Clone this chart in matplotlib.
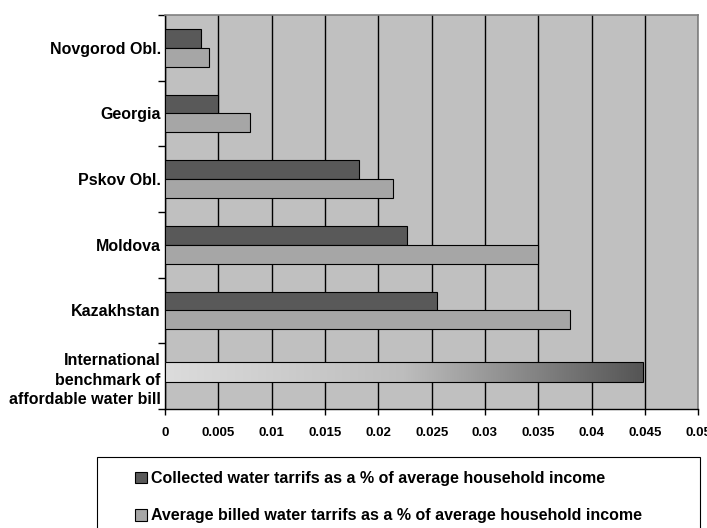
import numpy as np
import matplotlib
matplotlib.use('Agg')
import matplotlib.pyplot as plt
from matplotlib.patches import Rectangle, Patch

plt.rcParams['font.family'] = ['Liberation Sans', 'DejaVu Sans']
plt.rcParams['font.weight'] = 'bold'

# Tariffs as a share of average household income
regions = ['Novgorod Obl.', 'Georgia', 'Pskov Obl.', 'Moldova', 'Kazakhstan']
collected = [0.0034, 0.0050, 0.0182, 0.0227, 0.0255]
billed = [0.0041, 0.0080, 0.0214, 0.0350, 0.0380]
benchmark_label = 'International\nbenchmark of\naffordable water bill'
benchmark = 0.0448

x_ticks = [0, 0.005, 0.01, 0.015, 0.02, 0.025, 0.03, 0.035, 0.04, 0.045, 0.05]
x_tick_labels = ['0', '0.005', '0.01', '0.015', '0.02', '0.025', '0.03',
                 '0.035', '0.04', '0.045', '0.05']

fig = plt.figure(figsize=(7.07, 5.28), dpi=100)
ax = fig.add_axes([165 / 707, 1 - 409 / 528, (698.3 - 165) / 707, (409 - 15) / 528])
ax.set_facecolor('#c0c0c0')

y = np.arange(len(regions))
h = 0.285
ax.barh(y - 0.142, collected, height=h, color='#595959', edgecolor='black', linewidth=0.8,
        zorder=3)
ax.barh(y + 0.142, billed, height=h, color='#a6a6a6', edgecolor='black', linewidth=0.8,
        zorder=3)

# Benchmark bar with a light-to-dark gradient fill
yb = len(regions) - 0.063
bench = ax.barh([yb], [benchmark], height=0.30, color='none', edgecolor='black',
                linewidth=0.8, zorder=4)[0]
grad = np.linspace(0, 1, 256).reshape(1, -1)
cmap = matplotlib.colors.LinearSegmentedColormap.from_list('g', ['#dcdcdc', '#bdbdbd', '#555555'])
im = ax.imshow(grad, cmap=cmap, aspect='auto', zorder=3,
               extent=[bench.get_x(), bench.get_x() + bench.get_width(),
                       bench.get_y() + bench.get_height(), bench.get_y()])
im.set_clip_path(bench)

n = len(regions) + 1
ax.set_xlim(0, 0.05)
ax.set_ylim(n - 0.5, -0.5)

ax.set_xticks(x_ticks)
ax.set_xticklabels(x_tick_labels, fontsize=9.5, fontweight='bold')
ax.tick_params(axis='x', length=4, width=1, pad=9, direction='out')
ax.xaxis.grid(True, color='black', linewidth=1)
ax.set_axisbelow(True)

# Category ticks on boundaries, labels centred in each band
ax.set_yticks(np.arange(n + 1) - 0.5)
ax.set_yticklabels([])
ax.set_yticks(np.arange(n), minor=True)
ax.set_yticklabels(regions + [benchmark_label], minor=True, fontsize=11.5, fontweight='bold',
                   linespacing=1.4)
ax.tick_params(axis='y', which='major', length=5, width=1, direction='out')
ax.tick_params(axis='y', which='minor', length=0, pad=3)

for side in ['top', 'right']:
    ax.spines[side].set_color('#808080')
    ax.spines[side].set_linewidth(1.2)
for side in ['left', 'bottom']:
    ax.spines[side].set_color('black')
    ax.spines[side].set_linewidth(1)

# Legend box running off the lower edge
fig.patches.append(Rectangle((97 / 707, -0.05), (700 - 97) / 707, 1 - 457 / 528 + 0.05,
                             transform=fig.transFigure, facecolor='white',
                             edgecolor='black', linewidth=0.8))
handles = [Patch(facecolor='#595959', edgecolor='black', linewidth=0.8),
           Patch(facecolor='#a6a6a6', edgecolor='black', linewidth=0.8)]
labels = ['Collected water tarrifs as a % of average household income',
          'Average billed water tarrifs as a % of average household income']
fig.legend(handles, labels, loc='upper left', bbox_to_anchor=(135 / 707, 1 - 471 / 528),
           frameon=False, prop={'size': 11.5, 'weight': 'bold'}, handlelength=0.75,
           handleheight=0.75, handletextpad=0.25, labelspacing=1.4, borderaxespad=0,
           borderpad=0)

fig.savefig('out.png', dpi=100)
